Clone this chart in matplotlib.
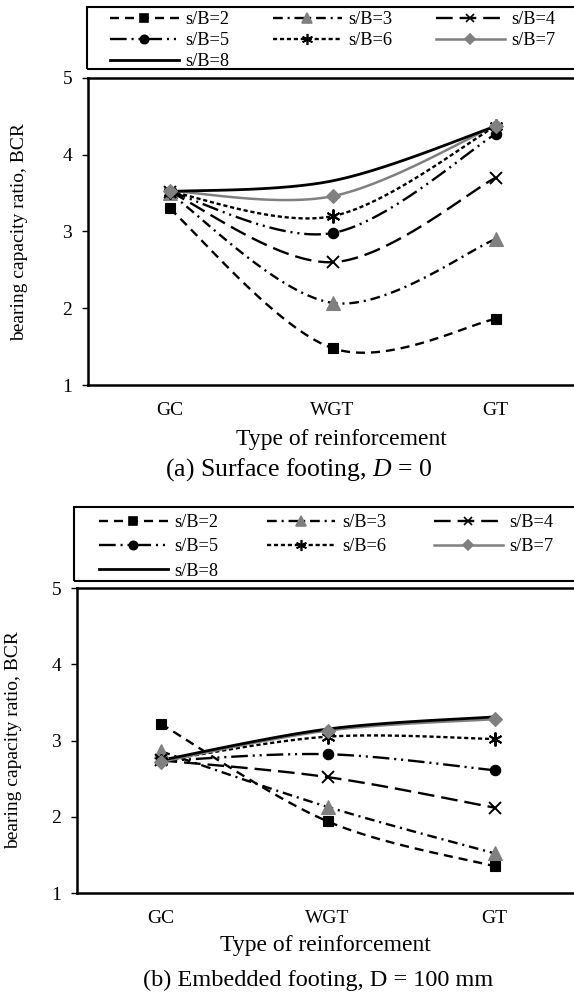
import numpy as np
import matplotlib
matplotlib.use('Agg')
import matplotlib.pyplot as plt
from matplotlib.lines import Line2D
from matplotlib.patches import Rectangle

plt.rcParams['font.family'] = ['Liberation Serif', 'DejaVu Serif']
plt.rcParams['mathtext.fontset'] = 'custom'
plt.rcParams['mathtext.rm'] = 'Liberation Serif'
plt.rcParams['mathtext.it'] = 'Liberation Serif:italic'
plt.rcParams['lines.scale_dashes'] = False

categories = ['GC', 'WGT', 'GT']
series_labels = ['s/B=2', 's/B=3', 's/B=4', 's/B=5', 's/B=6', 's/B=7', 's/B=8']

# (a) surface footing
surface_sb2 = [3.30, 1.48, 1.86]
surface_sb3 = [3.50, 2.07, 2.90]
surface_sb4 = [3.52, 2.60, 3.70]
surface_sb5 = [3.52, 2.98, 4.27]
surface_sb6 = [3.52, 3.20, 4.37]
surface_sb7 = [3.53, 3.46, 4.38]
surface_sb8 = [3.52, 3.66, 4.37]

# (b) embedded footing
embedded_sb2 = [3.22, 1.94, 1.35]
embedded_sb3 = [2.86, 2.13, 1.52]
embedded_sb4 = [2.74, 2.52, 2.12]
embedded_sb5 = [2.73, 2.82, 2.61]
embedded_sb6 = [2.73, 3.05, 3.02]
embedded_sb7 = [2.72, 3.13, 3.28]
embedded_sb8 = [2.74, 3.15, 3.31]

GREY = '#808080'
# line colour, dashes (points), marker, marker colour, marker size, line width
styles = [
    ('black', (6.5, 4.3), 's', 'black', 7.5, 1.7),
    ('black', (7, 3.5, 1.5, 3.5), '^', GREY, 9.5, 1.7),
    ('black', (12, 5), 'x', 'black', 8, 1.7),
    ('black', (12, 3.5, 1.5, 3.5, 1.5, 3.5), 'o', 'black', 7.5, 1.7),
    ('black', (3, 2), (6, 2, 0), 'black', 10, 1.7),
    (GREY, None, 'D', GREY, 7, 1.8),
    ('black', None, None, 'black', 0, 2.0),
]


def smooth(y, n=40):
    # excel style smoothed line (catmull-rom bezier)
    pts = np.column_stack([np.arange(len(y)), y]).astype(float)
    ext = np.vstack([pts[0], pts, pts[-1]])
    out = []
    for i in range(len(pts) - 1):
        p0, p1, p2, p3 = ext[i], ext[i + 1], ext[i + 2], ext[i + 3]
        c1 = p1 + (p2 - p0) / 6.0
        c2 = p2 - (p3 - p1) / 6.0
        t = np.linspace(0, 1, n)[:, None]
        seg = (1 - t) ** 3 * p1 + 3 * (1 - t) ** 2 * t * c1 + 3 * (1 - t) * t ** 2 * c2 + t ** 3 * p2
        out.append(seg if i == 0 else seg[1:])
    out = np.vstack(out)
    return out[:, 0], out[:, 1]


def draw_panel(ax, data):
    x = np.arange(len(categories))
    for y, st in zip(data, styles):
        color, dashes, marker, mcolor, ms, lw = st
        sx, sy = smooth(y)
        line, = ax.plot(sx, sy, color=color, lw=lw, solid_capstyle='butt', zorder=2)
        if dashes is not None:
            line.set_dashes(dashes)
        if marker is not None:
            ax.plot(x, y, linestyle='none', marker=marker, color=mcolor, ms=ms,
                    mew=1.4 if marker in ('x', (6, 2, 0)) else 0.8, mec=mcolor, zorder=3)
    ax.set_xlim(-0.5, 2.5)
    ax.set_ylim(1, 5)
    ax.set_yticks([1, 2, 3, 4, 5])
    ax.set_xticks(x)
    ax.set_xticklabels(categories)
    ax.tick_params(axis='x', length=0, pad=12, labelsize=14)
    ax.tick_params(axis='y', length=4.3, width=1.0, pad=7, labelsize=14)
    for s in ['left', 'bottom', 'top']:
        ax.spines[s].set_linewidth(1.8)
    ax.spines['right'].set_visible(False)


def legend_handles():
    hs = []
    for st in styles:
        color, dashes, marker, mcolor, ms, lw = st
        h = Line2D([], [], color=color, lw=lw, marker=marker, markersize=ms * 0.8,
                   markerfacecolor=mcolor, markeredgecolor=mcolor, mew=1.2)
        if dashes is not None:
            h.set_dashes(dashes)
        hs.append(h)
    return hs


# matplotlib fills legend columns first, so reorder to get rows 2-3-4 / 5-6-7 / 8
order = [0, 3, 6, 1, 4, 2, 5]

W, H = 574, 997
fig = plt.figure(figsize=(W / 100, H / 100), dpi=100)

# top panel
ax1 = fig.add_axes([88 / W, 1 - 385 / H, (577 - 88) / W, 307 / H])
draw_panel(ax1, [surface_sb2, surface_sb3, surface_sb4, surface_sb5,
                 surface_sb6, surface_sb7, surface_sb8])
fig.patches.append(Rectangle((87 / W, 1 - 69 / H), 510 / W, 62 / H, transform=fig.transFigure,
                             fill=False, ec='black', lw=1.5))
hs = legend_handles()
fig.legend([hs[i] for i in order], [series_labels[i] for i in order], loc='upper left',
           bbox_to_anchor=(110 / W, 1 - 11 / H), bbox_transform=fig.transFigure, ncol=3,
           frameon=False, borderpad=0, borderaxespad=0, handlelength=3.75,
           handletextpad=0.38, columnspacing=2.35, labelspacing=0.22, fontsize=13.2, numpoints=1)
fig.text(20 / W, 1 - 232 / H, 'bearing capacity ratio, BCR', rotation=90, ha='center',
         va='center', fontsize=14)
fig.text(341 / W, 1 - 440 / H, 'Type of reinforcement', ha='center', va='center', fontsize=17)
fig.text(299 / W, 1 - 470 / H, '(a) Surface footing, $D$ = 0', ha='center', va='center', fontsize=18.5)

# bottom panel
ax2 = fig.add_axes([77 / W, 1 - 893 / H, (578 - 77) / W, 305 / H])
draw_panel(ax2, [embedded_sb2, embedded_sb3, embedded_sb4, embedded_sb5,
                 embedded_sb6, embedded_sb7, embedded_sb8])
fig.patches.append(Rectangle((74 / W, 1 - 581 / H), 520 / W, 74 / H, transform=fig.transFigure,
                             fill=False, ec='black', lw=1.5))
hs = legend_handles()
fig.legend([hs[i] for i in order], [series_labels[i] for i in order], loc='upper left',
           bbox_to_anchor=(99 / W, 1 - 514 / H), bbox_transform=fig.transFigure, ncol=3,
           frameon=False, borderpad=0, borderaxespad=0, handlelength=3.75,
           handletextpad=0.38, columnspacing=2.6, labelspacing=0.4, fontsize=13.2, numpoints=1)
fig.text(14 / W, 1 - 740 / H, 'bearing capacity ratio, BCR', rotation=90, ha='center',
         va='center', fontsize=14)
fig.text(325 / W, 1 - 945 / H, 'Type of reinforcement', ha='center', va='center', fontsize=17)
fig.text(318 / W, 1 - 980 / H, '(b) Embedded footing, D = 100 mm', ha='center', va='center', fontsize=17.5)

fig.savefig('out.png', dpi=100)
